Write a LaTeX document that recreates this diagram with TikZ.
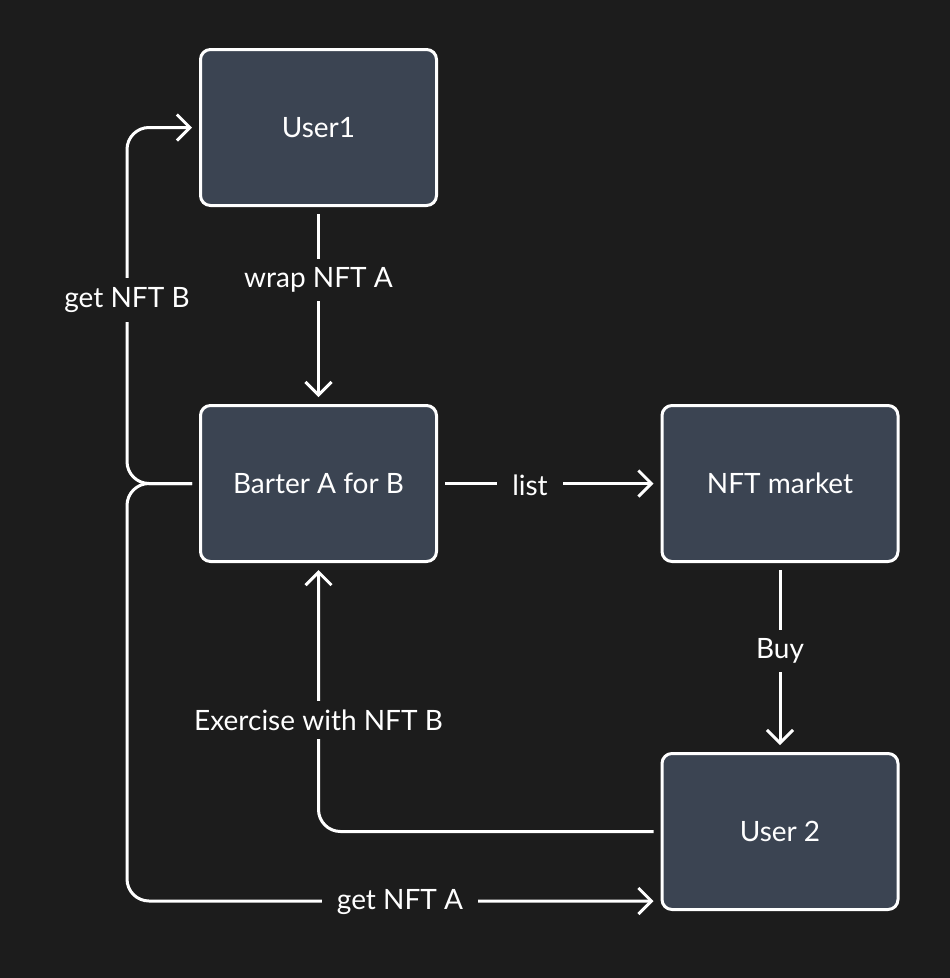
\documentclass[tikz,border=0pt]{standalone}
\usepackage{fontspec}
\setmainfont{Lato}
\usetikzlibrary{arrows.meta}
\definecolor{bgc}{HTML}{1C1C1C}
\definecolor{boxc}{HTML}{3B4452}
\tikzset{
  box/.style={draw=white, line width=3pt, fill=boxc, rounded corners=10pt, minimum width=236pt, minimum height=156pt, text=white, font=\fontsize{28}{33}\selectfont, inner sep=0pt},
  arr/.style={draw=white, line width=3pt, -{Straight Barb[length=13pt, width=26pt, line width=3pt]}, shorten <=7pt, shorten >=7pt},
  lbl/.style={fill=bgc, text=white, font=\fontsize{28}{33}\selectfont, inner xsep=15pt, inner ysep=9pt}
}
\begin{document}
\begin{tikzpicture}[x=1pt, y=-1pt]
\fill[bgc] (0,0) rectangle (950,978);
\useasboundingbox (0,0) rectangle (950,978);
\node[box] (user1) at (318.5,127.5) {User1};
\node[box] (barter) at (318.5,483.5) {Barter A for B};
\node[box] (market) at (780,483.5) {NFT market};
\node[box] (user2) at (780,831.5) {User 2};
\coordinate (lx) at (127,0);
\coordinate (by) at (0,901);
\draw[arr] (user1) -- (barter);
\draw[arr] (barter) -- (market);
\draw[arr] (market) -- (user2);
\draw[arr, rounded corners=22pt] (user2.west) -| (barter.south);
\draw[arr, rounded corners=22pt] (barter.west) -- (barter.west -| lx) |- (user1.west);
\draw[arr, rounded corners=22pt] (barter.west) -- (barter.west -| lx) |- (user2.west |- by);
\node[lbl] (l1) at (318.5,280) {wrap NFT A};
\node[lbl] (l2) at (530,485) {list};
\node[lbl] (l3) at (780,651) {Buy};
\node[lbl] (l4) at (318.5,720) {Exercise with NFT B};
\node[lbl] (l5) at (127,300) {get NFT B};
\node[lbl] (l6) at (400,902) {get NFT A};
\end{tikzpicture}
\end{document}
